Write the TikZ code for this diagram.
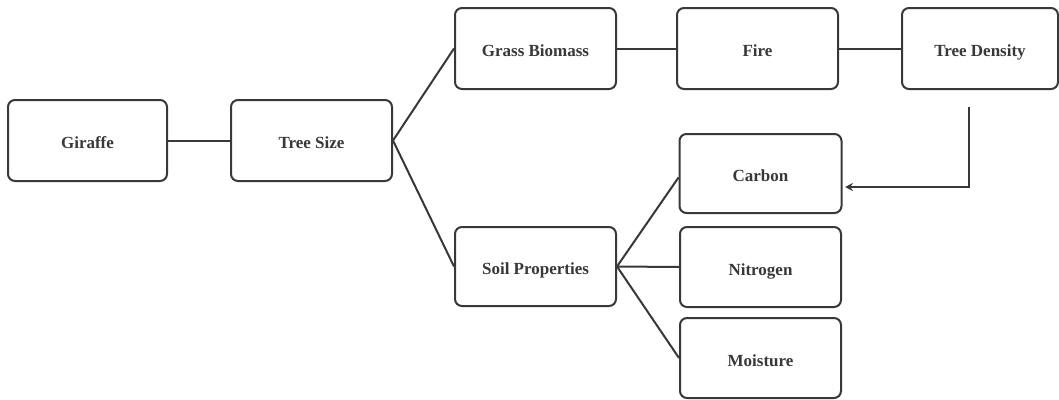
\documentclass[tikz,border=0pt]{standalone}
\usepackage{fontspec}
\setmainfont{Liberation Serif}
\usetikzlibrary{arrows.meta}
\definecolor{ink}{HTML}{383838}
\tikzset{
  box/.style={draw=ink, line width=2pt, rounded corners=7pt, minimum height=80pt,
    minimum width=161pt, inner sep=0pt, text=ink, text height=16pt, text depth=0pt,
    font=\fontsize{17}{20}\selectfont\bfseries},
  link/.style={draw=ink, line width=2pt},
}
\begin{document}
\begin{tikzpicture}[x=1pt,y=-1pt]
\useasboundingbox (0,0) rectangle (1059,399);
\node[box, minimum width=159pt, minimum height=81pt] (giraffe) at (87.5,140.5) {Giraffe};
\node[box, minimum height=81pt] (treesize) at (311.5,140.5) {Tree Size};
\node[box, minimum height=81pt] (grass) at (535.5,48.5) {Grass Biomass};
\node[box, minimum height=81pt] (fire) at (757.5,48.5) {Fire};
\node[box, minimum width=156pt, minimum height=81pt] (density) at (980,48.5) {Tree Density};
\node[box, minimum width=162pt, minimum height=79pt] (carbon) at (760.5,173.5) {Carbon};
\node[box, minimum height=79pt] (soil) at (535.5,266.5) {Soil Properties};
\node[box] (nitrogen) at (760.5,267) {Nitrogen};
\node[box] (moisture) at (760.5,358) {Moisture};
\coordinate (a1) at (969,107);
\coordinate (a2) at (845,187);
\draw[link] (giraffe) -- (treesize);
\draw[link] (treesize.east) -- (grass.west);
\draw[link] (treesize.east) -- (soil.west);
\draw[link] (grass) -- (fire);
\draw[link] (fire) -- (density);
\draw[link] (soil.east) -- ([yshift=-4pt]carbon.west);
\draw[link] (soil.east) -- (nitrogen.west);
\draw[link] (soil.east) -- (moisture.west);
\draw[link, -{Stealth[length=8pt,width=8pt]}] (a1) |- (a2);
\end{tikzpicture}
\end{document}
